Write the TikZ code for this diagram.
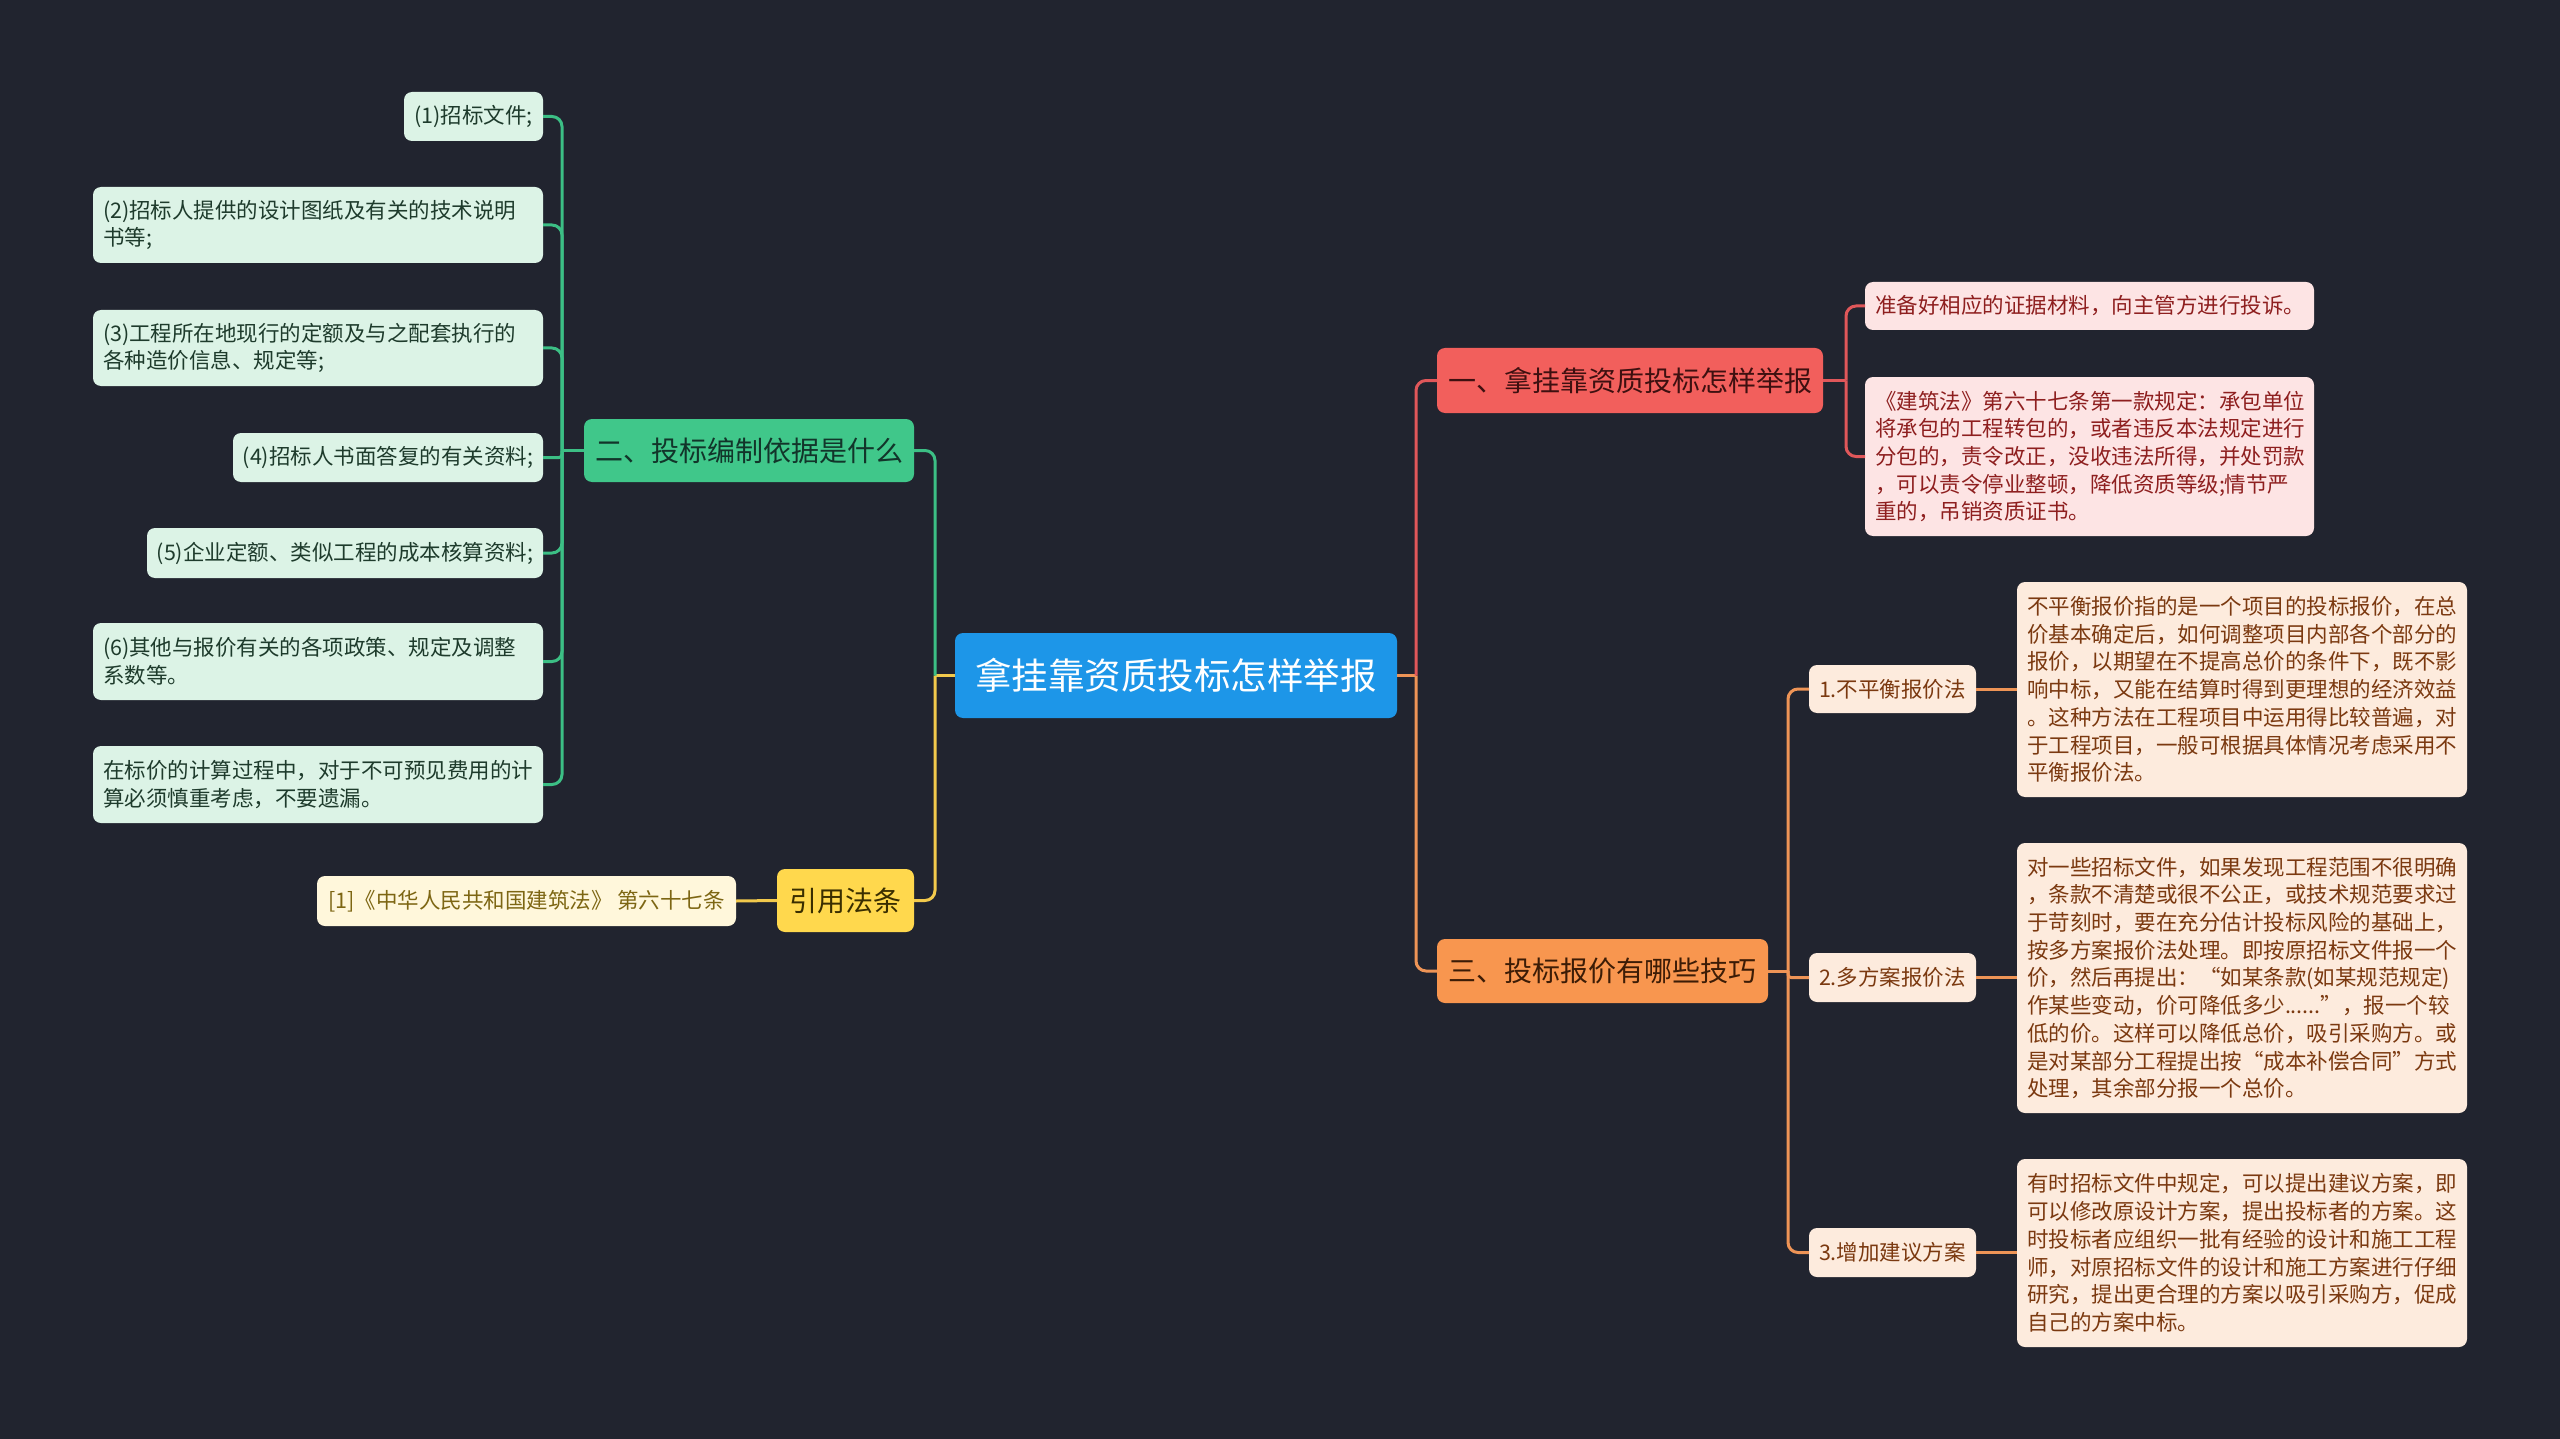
\documentclass[tikz,border=0pt]{standalone}
\usepackage{fontspec}
\setmainfont{Noto Sans CJK SC}
\definecolor{bg}{HTML}{21242F}
\definecolor{cblue}{HTML}{1D96E8}
\definecolor{rfill}{HTML}{F25F5C}
\definecolor{rtext}{HTML}{3E1010}
\definecolor{rleaf}{HTML}{FDE4E4}
\definecolor{rleaftext}{HTML}{8E1F1F}
\definecolor{rline}{HTML}{E0575A}
\definecolor{gfill}{HTML}{40C78A}
\definecolor{gtext}{HTML}{12352A}
\definecolor{gleaf}{HTML}{DCF3E6}
\definecolor{gleaftext}{HTML}{1E3B2C}
\definecolor{gline}{HTML}{3CBF85}
\definecolor{yfill}{HTML}{FFD84D}
\definecolor{ytext}{HTML}{3A2E00}
\definecolor{yleaf}{HTML}{FFF7DB}
\definecolor{yleaftext}{HTML}{7D6613}
\definecolor{yline}{HTML}{F2C94C}
\definecolor{ofill}{HTML}{F8964F}
\definecolor{otext}{HTML}{3C1C06}
\definecolor{oleaf}{HTML}{FDEBDD}
\definecolor{oleaftext}{HTML}{7B3910}
\definecolor{oline}{HTML}{EE9456}
\tikzset{
  box/.style={rounded corners=8pt, inner sep=0pt, outer sep=0pt, align=center},
  central/.style={box, fill=cblue, text=white, font=\fontsize{36.5}{42}\selectfont, minimum width=442pt, minimum height=85pt},
  branch/.style={box, font=\fontsize{28}{34}\selectfont, minimum height=64pt},
  leaf/.style={box, font=\fontsize{21.5}{27.7}\selectfont},
  para/.style={leaf, align=left, text width=430pt, minimum width=450pt},
  gl/.style={fill=gleaf, text=gleaftext},
  rl/.style={fill=rleaf, text=rleaftext},
  ol/.style={fill=oleaf, text=oleaftext},
  conn/.style={line width=3pt, rounded corners=10pt},
}
\begin{document}
\begin{tikzpicture}[x=1pt,y=-1pt]
\fill[bg] (0,0) rectangle (2560,1439);
\useasboundingbox (0,0) rectangle (2560,1439);

% central
\node[central] (c) at (1176,675.5) {拿挂靠资质投标怎样举报};

% branches
\node[branch, fill=gfill, text=gtext, minimum width=330pt, minimum height=63pt] (b2) at (749,450.5) {二、投标编制依据是什么};
\node[branch, fill=yfill, text=ytext, minimum width=137pt, minimum height=63pt] (b4) at (845.5,900.5) {引用法条};
\node[branch, fill=rfill, text=rtext, minimum width=386pt, minimum height=65pt] (b1) at (1630,380.5) {一、拿挂靠资质投标怎样举报};
\node[branch, fill=ofill, text=otext, minimum width=331pt, minimum height=64pt] (b3) at (1602.5,971) {三、投标报价有哪些技巧};

% green leaves
\node[leaf, gl, minimum width=139pt, minimum height=49pt] (g1) at (473.5,116.5) {(1)招标文件;};
\node[para, gl, minimum height=76pt] (g2) at (318,225) {(2)招标人提供的设计图纸及有关的技术说明\\书等;};
\node[para, gl, minimum height=76pt] (g3) at (318,348) {(3)工程所在地现行的定额及与之配套执行的\\各种造价信息、规定等;};
\node[leaf, gl, minimum width=310pt, minimum height=49pt] (g4) at (388,457.5) {(4)招标人书面答复的有关资料;};
\node[leaf, gl, minimum width=396pt, minimum height=50pt] (g5) at (345,553) {(5)企业定额、类似工程的成本核算资料;};
\node[para, gl, minimum height=77pt] (g6) at (318,661.5) {(6)其他与报价有关的各项政策、规定及调整\\系数等。};
\node[para, gl, minimum height=77pt] (g7) at (318,784.5) {在标价的计算过程中，对于不可预见费用的计\\算必须慎重考虑，不要遗漏。};

% yellow leaf
\node[leaf, fill=yleaf, text=yleaftext, minimum width=419pt, minimum height=50pt] (y1) at (526.5,901) {[1]《中华人民共和国建筑法》 第六十七条};

% red leaves
\node[para, rl, minimum width=449pt, text width=429pt, minimum height=48pt] (r1) at (2089.5,306) {准备好相应的证据材料，向主管方进行投诉。};
\node[para, rl, minimum width=449pt, text width=429pt, minimum height=159pt] (r2) at (2089.5,456.5) {《建筑法》第六十七条第一款规定：承包单位\\将承包的工程转包的，或者违反本法规定进行\\分包的，责令改正，没收违法所得，并处罚款\\，可以责令停业整顿，降低资质等级;情节严\\重的，吊销资质证书。};

% orange sub nodes
\node[leaf, ol, minimum width=167pt, minimum height=48pt] (o1) at (1892.5,689) {1.不平衡报价法};
\node[leaf, ol, minimum width=167pt, minimum height=49pt] (o2) at (1892.5,977.5) {2.多方案报价法};
\node[leaf, ol, minimum width=167pt, minimum height=49pt] (o3) at (1892.5,1252.5) {3.增加建议方案};

% orange leaves
\node[para, ol, minimum height=215pt] (L1) at (2242,689.5) {不平衡报价指的是一个项目的投标报价，在总\\价基本确定后，如何调整项目内部各个部分的\\报价，以期望在不提高总价的条件下，既不影\\响中标，又能在结算时得到更理想的经济效益\\。这种方法在工程项目中运用得比较普遍，对\\于工程项目，一般可根据具体情况考虑采用不\\平衡报价法。};
\node[para, ol, minimum height=270pt] (L2) at (2242,978) {对一些招标文件，如果发现工程范围不很明确\\，条款不清楚或很不公正，或技术规范要求过\\于苛刻时，要在充分估计投标风险的基础上，\\按多方案报价法处理。即按原招标文件报一个\\价，然后再提出：“如某条款(如某规范规定)\\作某些变动，价可降低多少......”，报一个较\\低的价。这样可以降低总价，吸引采购方。或\\是对某部分工程提出按“成本补偿合同”方式\\处理，其余部分报一个总价。};
\node[para, ol, minimum height=188pt] (L3) at (2242,1253) {有时招标文件中规定，可以提出建议方案，即\\可以修改原设计方案，提出投标者的方案。这\\时投标者应组织一批有经验的设计和施工工程\\师，对原招标文件的设计和施工方案进行仔细\\研究，提出更合理的方案以吸引采购方，促成\\自己的方案中标。};

% junction coordinates
\coordinate (jL) at (935,675.5);
\coordinate (jR) at (1416,675.5);
\coordinate (jG) at (562,450.5);
\coordinate (jr) at (1846,380.5);
\coordinate (jo) at (1788,971);

% central to branches
\draw[conn, yline] (c.west) -- (jL);
\draw[conn, yline] (jL) |- (b4.east);
\draw[conn, gline] (jL) |- (b2.east);
\draw[conn, oline] (c.east) -- (jR);
\draw[conn, oline] (jR) |- (b3.west);
\draw[conn, rline] (jR) |- (b1.west);

% green
\draw[conn, gline] (b2.west) -- (jG);
\draw[conn, gline] (jG) |- (g1.east);
\draw[conn, gline] (jG) |- (g2.east);
\draw[conn, gline] (jG) |- (g3.east);
\draw[conn, gline, rounded corners=3pt] (jG) |- (g4.east);
\draw[conn, gline] (jG) |- (g5.east);
\draw[conn, gline] (jG) |- (g6.east);
\draw[conn, gline] (jG) |- (g7.east);

% yellow
\draw[conn, yline] (b4.west) -- (y1.east);

% red
\draw[conn, rline] (b1.east) -- (jr);
\draw[conn, rline] (jr) |- (r1.west);
\draw[conn, rline] (jr) |- (r2.west);

% orange
\draw[conn, oline] (b3.east) -- (jo);
\draw[conn, oline] (jo) |- (o1.west);
\draw[conn, oline, rounded corners=3pt] (jo) |- (o2.west);
\draw[conn, oline] (jo) |- (o3.west);
\draw[conn, oline] (o1.east) -- (o1.east -| L1.west);
\draw[conn, oline] (o2.east) -- (o2.east -| L2.west);
\draw[conn, oline] (o3.east) -- (o3.east -| L3.west);
\end{tikzpicture}
\end{document}
